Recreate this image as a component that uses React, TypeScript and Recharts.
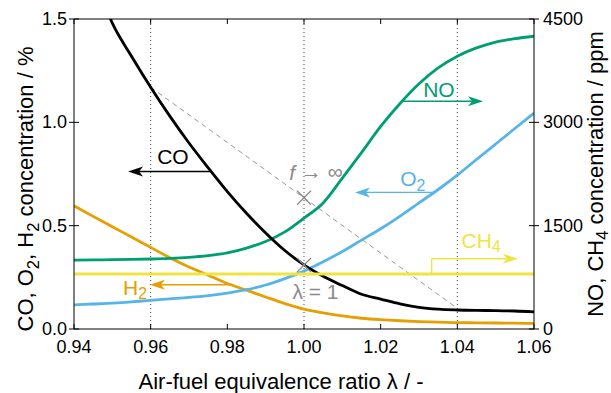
import React from 'react';
import { LineChart, Line, XAxis, YAxis, ReferenceLine, ReferenceDot } from 'recharts';

document.body.style.margin = '0';

const FONT = '"Liberation Sans", Arial, Helvetica, sans-serif';

// air-fuel equivalence ratio samples
const lambdas = [
  0.94, 0.945, 0.95, 0.955, 0.96, 0.965, 0.97, 0.975, 0.98, 0.985, 0.99, 0.995,
  1.0, 1.005, 1.01, 1.015, 1.02, 1.025, 1.03, 1.035, 1.04, 1.045, 1.05, 1.055, 1.06,
];
// left axis, %
const coPct = [
  1.95, 1.72, 1.48, 1.32, 1.17, 1.03, 0.9, 0.78, 0.665, 0.56, 0.465, 0.38,
  0.31, 0.255, 0.21, 0.168, 0.145, 0.122, 0.105, 0.096, 0.092, 0.09, 0.089, 0.087, 0.083,
];
const o2Pct = [
  0.117, 0.121, 0.125, 0.131, 0.139, 0.146, 0.153, 0.162, 0.174, 0.19, 0.213, 0.244,
  0.28, 0.325, 0.375, 0.43, 0.485, 0.545, 0.61, 0.675, 0.745, 0.82, 0.895, 0.97, 1.045,
];
const h2Pct = [
  0.596, 0.545, 0.495, 0.445, 0.395, 0.345, 0.3, 0.26, 0.22, 0.188, 0.155, 0.123,
  0.096, 0.078, 0.063, 0.052, 0.045, 0.04, 0.036, 0.033, 0.031, 0.03, 0.029, 0.028, 0.027,
];
// right axis, ppm
const noPpm = [
  1000, 1003, 1006, 1010, 1016, 1025, 1040, 1065, 1105, 1175, 1270, 1410,
  1610, 1830, 2190, 2560, 2940, 3270, 3560, 3790, 3960, 4080, 4165, 4215, 4250,
];
const ch4Ppm = [
  800, 800, 800, 800, 800, 800, 800, 800, 800, 800, 800, 800,
  800, 800, 800, 800, 800, 800, 800, 800, 800, 800, 800, 800, 800,
];

const xTicks = [0.94, 0.96, 0.98, 1.0, 1.02, 1.04, 1.06];
const pctTicks = [0, 0.5, 1.0, 1.5];
const ppmTicks = [0, 1500, 3000, 4500];
const guideLambdas = [0.96, 1.0, 1.04];

const data = lambdas.map((l, i) => ({
  lambda: l,
  co: coPct[i],
  o2: o2Pct[i],
  h2: h2Pct[i],
  no: noPpm[i],
  ch4: ch4Ppm[i],
}));

const C = {
  co: '#000000',
  no: '#009E73',
  o2: '#56B4E9',
  h2: '#E69F00',
  ch4: '#F0E442',
  note: '#8a8a8a',
};

// line with a notched arrowhead at (x2, y2)
const arrowShape = (color: string) => (p: any) => {
  const { x1, y1, x2, y2 } = p;
  const a = Math.atan2(y2 - y1, x2 - x1);
  const len = 15;
  const hw = 5;
  const cx = Math.cos(a);
  const sy = Math.sin(a);
  const bx = x2 - len * cx;
  const by = y2 - len * sy;
  const nx = -sy * hw;
  const ny = cx * hw;
  const kx = x2 - (len - 4) * cx;
  const ky = y2 - (len - 4) * sy;
  return (
    <g>
      <line x1={x1} y1={y1} x2={kx} y2={ky} stroke={color} strokeWidth={1.4} />
      <polygon
        points={`${x2},${y2} ${bx + nx},${by + ny} ${kx},${ky} ${bx - nx},${by - ny}`}
        fill={color}
      />
    </g>
  );
};

const plainShape = (color: string) => (p: any) => (
  <line x1={p.x1} y1={p.y1} x2={p.x2} y2={p.y2} stroke={color} strokeWidth={1.4} />
);

const crossShape = (p: any) => (
  <g stroke={C.note} strokeWidth={1.3}>
    <line x1={p.cx - 7} y1={p.cy - 7} x2={p.cx + 7} y2={p.cy + 7} />
    <line x1={p.cx - 7} y1={p.cy + 7} x2={p.cx + 7} y2={p.cy - 7} />
  </g>
);

const textShape =
  (content: React.ReactNode, color: string, anchor: 'start' | 'middle' | 'end' = 'middle') =>
  (p: any) => (
    <text
      x={p.cx}
      y={p.cy}
      fill={color}
      fontSize={21}
      fontFamily={FONT}
      textAnchor={anchor}
      dominantBaseline="central"
    >
      {content}
    </text>
  );

const sub = (s: string, before: string, after = '') => (
  <>
    {before}
    <tspan dy={6} fontSize="0.75em">
      {s}
    </tspan>
    <tspan dy={-6}>{after}</tspan>
  </>
);

const tickText = { fontSize: 18, fontFamily: FONT, fill: '#000' };

const LeftTick = (p: any) => {
  const ax = p.x + 7;
  return (
    <g>
      <line x1={ax - 5} y1={p.y} x2={ax + 5} y2={p.y} stroke="#000" />
      <text x={p.x} y={p.y} textAnchor="end" dominantBaseline="central" {...tickText}>
        {Number(p.payload.value).toFixed(1)}
      </text>
    </g>
  );
};

const RightTick = (p: any) => {
  const ax = p.x - 9;
  return (
    <g>
      <line x1={ax - 5} y1={p.y} x2={ax + 5} y2={p.y} stroke="#000" />
      <text x={p.x} y={p.y} textAnchor="start" dominantBaseline="central" {...tickText}>
        {p.payload.value}
      </text>
    </g>
  );
};

const BottomTick = (p: any) => (
  <g>
    <line x1={p.x} y1={p.y} x2={p.x} y2={p.y - 5} stroke="#000" />
    <text x={p.x} y={p.y + 24} textAnchor="middle" {...tickText}>
      {Number(p.payload.value).toFixed(2)}
    </text>
  </g>
);

const TopTick = (p: any) => (
  <line x1={p.x} y1={p.y} x2={p.x} y2={p.y + 5} stroke="#000" />
);

const titleStyle = { fontSize: 22, fontFamily: FONT, fill: '#000' };

const leftTitle = (p: any) => {
  const vb = p.viewBox;
  return (
    <text
      transform={`translate(${vb.x + 33}, ${vb.y + vb.height / 2 + 15}) rotate(-90)`}
      textAnchor="middle"
      {...titleStyle}
    >
      CO, O<tspan dy={6} fontSize="0.75em">2</tspan>
      <tspan dy={-6}>, H</tspan>
      <tspan dy={6} fontSize="0.75em">2</tspan>
      <tspan dy={-6}> concentration / %</tspan>
    </text>
  );
};

const rightTitle = (p: any) => {
  const vb = p.viewBox;
  return (
    <text
      transform={`translate(${vb.x + 69}, ${vb.y + vb.height / 2}) rotate(-90)`}
      textAnchor="middle"
      {...titleStyle}
    >
      NO, CH<tspan dy={5} fontSize="0.75em">4</tspan>
      <tspan dy={-5}> concentration / ppm</tspan>
    </text>
  );
};

const bottomTitle = (p: any) => {
  const vb = p.viewBox;
  return (
    <text x={vb.x + vb.width / 2 - 23} y={vb.y + 60} textAnchor="middle" {...titleStyle}>
      Air-fuel equivalence ratio λ / -
    </text>
  );
};

export default function App() {
  const L = { xAxisId: 'x', yAxisId: 'pct' } as const;
  const R = { xAxisId: 'x', yAxisId: 'ppm' } as const;
  return (
    <LineChart
      width={611}
      height={393}
      data={data}
      margin={{ top: 0, right: 0, bottom: 0, left: 0 }}
      style={{ background: '#fff' }}
    >
      <XAxis
        xAxisId="x"
        dataKey="lambda"
        type="number"
        domain={[0.94, 1.06]}
        ticks={xTicks}
        allowDataOverflow
        height={64}
        tickSize={0}
        tickMargin={0}
        tickLine={false}
        tick={<BottomTick />}
        axisLine={{ stroke: '#000' }}
        label={{ content: bottomTitle }}
      />
      <XAxis
        xAxisId="top"
        orientation="top"
        dataKey="lambda"
        type="number"
        domain={[0.94, 1.06]}
        ticks={xTicks}
        allowDataOverflow
        height={19}
        tickSize={0}
        tickMargin={0}
        tickLine={false}
        tick={<TopTick />}
        axisLine={{ stroke: '#000' }}
      />
      <YAxis
        yAxisId="pct"
        type="number"
        domain={[0, 1.5]}
        ticks={pctTicks}
        allowDataOverflow
        width={74}
        tickSize={0}
        tickMargin={7}
        tickLine={false}
        tick={<LeftTick />}
        axisLine={{ stroke: '#000' }}
        label={{ content: leftTitle }}
      />
      <YAxis
        yAxisId="ppm"
        orientation="right"
        type="number"
        domain={[0, 4500]}
        ticks={ppmTicks}
        allowDataOverflow
        width={77}
        tickSize={0}
        tickMargin={9}
        tickLine={false}
        tick={<RightTick />}
        axisLine={{ stroke: '#000' }}
        label={{ content: rightTitle }}
      />

      {guideLambdas.map((g) => (
        <ReferenceLine
          key={g}
          {...L}
          x={g}
          stroke="#444"
          strokeWidth={1}
          strokeDasharray="1 3"
        />
      ))}
      <ReferenceLine
        {...L}
        segment={[
          { x: 0.96, y: 1.17 },
          { x: 1.04, y: 0.1 },
        ]}
        stroke="#999"
        strokeWidth={1}
        strokeDasharray="5 4"
      />

      <Line {...L} dataKey="h2" type="monotone" stroke={C.h2} strokeWidth={2.8} dot={false} isAnimationActive={false} />
      <Line {...L} dataKey="o2" type="monotone" stroke={C.o2} strokeWidth={2.8} dot={false} isAnimationActive={false} />
      <Line {...R} dataKey="no" type="monotone" stroke={C.no} strokeWidth={2.8} dot={false} isAnimationActive={false} />
      <Line {...L} dataKey="co" type="monotone" stroke={C.co} strokeWidth={2.8} dot={false} isAnimationActive={false} />
      <Line {...R} dataKey="ch4" type="linear" stroke={C.ch4} strokeWidth={3} dot={false} isAnimationActive={false} />

      {/* crosses on the lambda = 1 line */}
      <ReferenceDot {...L} x={1.0} y={0.635} r={0} shape={crossShape} />
      <ReferenceDot {...L} x={1.0} y={0.31} r={0} shape={crossShape} />
      <ReferenceDot {...L} x={1.0031} y={0.76} r={0} shape={textShape(<><tspan fontStyle="italic">f</tspan> → ∞</>, C.note)} />
      <ReferenceDot {...L} x={1.003} y={0.182} r={0} shape={textShape('λ = 1', C.note)} />

      {/* species labels with arrows pointing to their axis */}
      <ReferenceLine {...L} segment={[{ x: 0.9755, y: 0.762 }, { x: 0.9541, y: 0.762 }]} shape={arrowShape(C.co)} />
      <ReferenceDot {...L} x={0.9658} y={0.834} r={0} shape={textShape('CO', C.co)} />

      <ReferenceLine {...R} segment={[{ x: 1.0255, y: 3305 }, { x: 1.0467, y: 3305 }]} shape={arrowShape(C.no)} />
      <ReferenceDot {...L} x={1.0352} y={1.158} r={0} shape={textShape('NO', C.no)} />

      <ReferenceLine {...L} segment={[{ x: 1.0342, y: 0.661 }, { x: 1.0133, y: 0.661 }]} shape={arrowShape(C.o2)} />
      <ReferenceDot {...L} x={1.0251} y={0.727} r={0} shape={textShape(sub('2', 'O'), C.o2, 'start')} />

      <ReferenceLine {...L} segment={[{ x: 0.9807, y: 0.214 }, { x: 0.9598, y: 0.214 }]} shape={arrowShape(C.h2)} />
      <ReferenceDot {...L} x={0.9528} y={0.201} r={0} shape={textShape(sub('2', 'H'), C.h2, 'start')} />

      <ReferenceLine {...R} segment={[{ x: 1.0333, y: 800 }, { x: 1.0333, y: 1020 }]} shape={plainShape(C.ch4)} />
      <ReferenceLine {...R} segment={[{ x: 1.0333, y: 1020 }, { x: 1.0558, y: 1020 }]} shape={arrowShape(C.ch4)} />
      <ReferenceDot {...L} x={1.0411} y={0.429} r={0} shape={textShape(sub('4', 'CH'), C.ch4, 'start')} />
    </LineChart>
  );
}
